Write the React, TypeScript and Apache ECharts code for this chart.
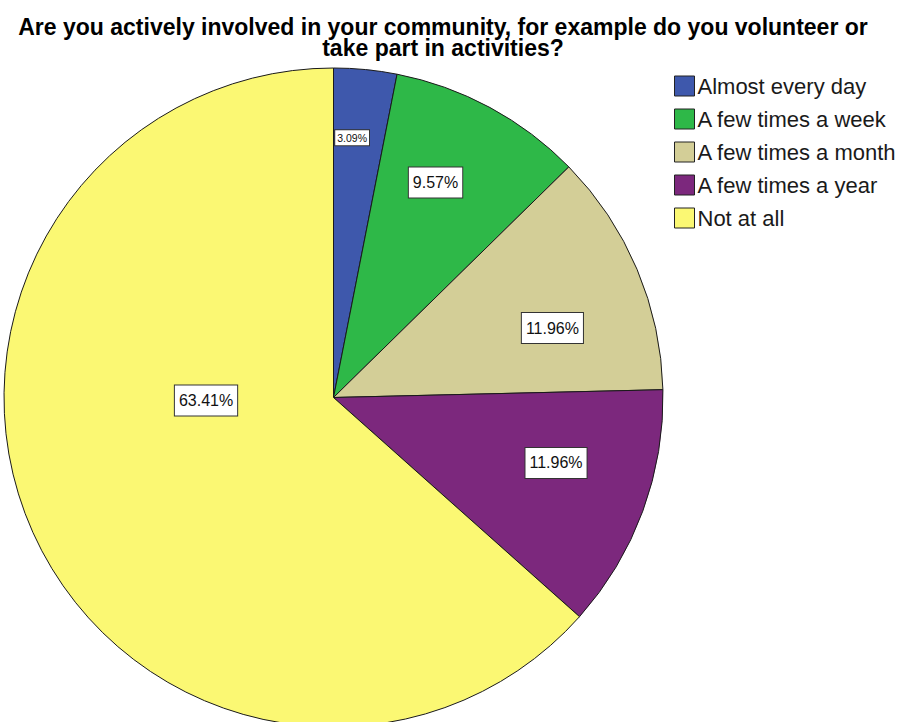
import React, { useEffect, useRef } from "react";
import * as echarts from "echarts";

const TITLE =
  "Are you actively involved in your community, for example do you volunteer or\ntake part in activities?";
const CATEGORIES = [
  "Almost every day",
  "A few times a week",
  "A few times a month",
  "A few times a year",
  "Not at all",
];
const PERCENTS = [3.09, 9.57, 11.96, 11.96, 63.41];
const COLORS = ["#3E58AC", "#2EB848", "#D3CE97", "#7C287D", "#FBF873"];

// label placement (layout only): angle clockwise from 12 o'clock, distance as fraction of radius
const LABEL_ANGLE = [4.1, 25.4, 72.4, 106.4, 268.7];
const LABEL_DIST = [0.79, 0.722, 0.697, 0.704, 0.387];

const CX = 333.5;
const CY = 397.5;
const R = 329.5;
const FONT = "'Liberation Sans', Arial, sans-serif";

export default function App() {
  const ref = useRef<HTMLDivElement>(null);
  useEffect(() => {
    if (!ref.current) return;
    const chart = echarts.init(ref.current, null, { renderer: "svg" });
    chart.setOption({
      animation: false,
      backgroundColor: "#ffffff",
      title: {
        text: TITLE,
        left: 443,
        top: 16,
        textAlign: "center",
        padding: 0,
        textStyle: {
          fontFamily: FONT,
          fontWeight: "bold",
          fontSize: 23,
          lineHeight: 21,
          color: "#000000",
        },
      },
      legend: {
        orient: "vertical",
        left: 674,
        top: 75,
        itemWidth: 20,
        itemHeight: 20,
        itemGap: 11,
        icon: "rect",
        padding: 0,
        selectedMode: false,
        itemStyle: { borderColor: "#222222", borderWidth: 1 },
        textStyle: {
          fontFamily: FONT,
          fontSize: 22,
          color: "#1a1a1a",
          padding: [0, 0, 0, -2],
        },
        data: CATEGORIES,
      },
      series: [
        {
          type: "pie",
          center: [CX, CY],
          radius: R,
          startAngle: 90,
          clockwise: true,
          silent: true,
          itemStyle: { borderColor: "#1a1a1a", borderWidth: 1 },
          label: {
            show: true,
            position: "inside",
            formatter: (p: any) => p.value.toFixed(2) + "%",
            fontFamily: FONT,
            fontSize: 16,
            lineHeight: 16,
            color: "#111111",
            backgroundColor: "#ffffff",
            borderColor: "#333333",
            borderWidth: 1,
            padding: [7, 4],
          },
          labelLine: { show: false },
          labelLayout: (params: any) => {
            const i = params.dataIndex;
            const a = (LABEL_ANGLE[i] * Math.PI) / 180;
            return {
              x: CX + R * LABEL_DIST[i] * Math.sin(a),
              y: CY - R * LABEL_DIST[i] * Math.cos(a),
            };
          },
          emphasis: { disabled: true },
          data: CATEGORIES.map((name, i) => ({
            name,
            value: PERCENTS[i],
            itemStyle: { color: COLORS[i] },
            label:
              i === 0
                ? { fontSize: 10.5, lineHeight: 11, padding: [2, 2] }
                : undefined,
          })),
        },
      ],
    });
    return () => chart.dispose();
  }, []);
  return (
    <div
      ref={ref}
      style={{ position: "fixed", left: 0, top: 0, width: 898, height: 722 }}
    />
  );
}
